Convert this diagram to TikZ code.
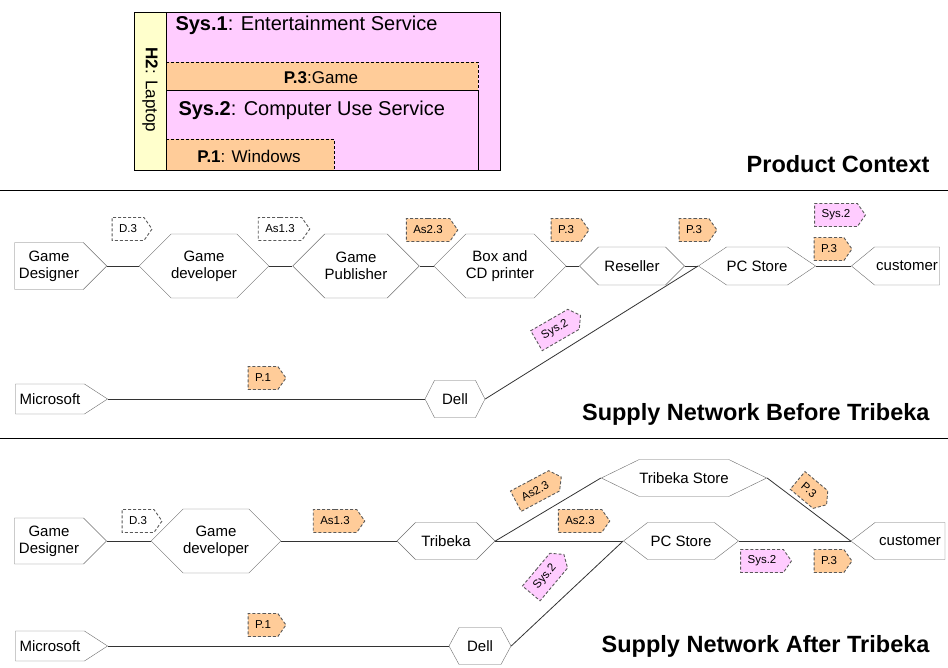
\documentclass[tikz,border=0pt]{standalone}
\usepackage{fontspec}
\setmainfont{Liberation Sans}
\usetikzlibrary{shapes.symbols}
\definecolor{peach}{HTML}{FFCC99}
\definecolor{lilac}{HTML}{FFCCFF}
\definecolor{cream}{HTML}{FFFFCC}
\definecolor{rimgray}{HTML}{6E6E6E}
\tikzset{
  firm/.style={signal, signal to=west and east, signal pointer angle=90,
    draw=rimgray, fill=white, align=center, inner sep=0pt,
    font=\fontsize{15}{17}\selectfont},
  source/.style={firm, signal to=east},
  sink/.style={firm, signal to=west},
  link/.style={draw=black!80, line width=0.8pt},
  tag/.style={signal, signal to=east, signal pointer angle=110,
    draw=black!65, dash pattern=on 3pt off 2pt, line width=0.9pt,
    minimum height=23pt, inner xsep=7pt, inner ysep=0pt,
    font=\fontsize{11.5}{13}\selectfont},
  title/.style={anchor=base east, font=\bfseries\fontsize{23.5}{27}\selectfont}
}
\begin{document}
\begin{tikzpicture}[x=1pt,y=-1pt]
  \useasboundingbox (0,0) rectangle (948,667);

  % product context
  \fill[lilac] (166,12) rectangle (500,170);
  \fill[cream] (134,12) rectangle (166,170);
  \fill[peach] (166,62) rectangle (478,90);
  \fill[peach] (166,139) rectangle (334,170);
  \draw[line width=0.8pt] (166,90) -- (478,90) -- (478,170);
  \draw[line width=0.8pt,dash pattern=on 3pt off 2pt] (166,62) -- (478,62) -- (478,90);
  \draw[line width=0.8pt,dash pattern=on 3pt off 2pt] (166,139) -- (334,139) -- (334,170);
  \draw[line width=0.8pt] (134,12) rectangle (500,170);
  \draw[line width=0.8pt] (166,12) -- (166,170);
  \node[anchor=base west,font=\fontsize{20}{22}\selectfont] (sysone) at (172,30) {\textbf{Sys.1}: Entertainment Service};
  \node[anchor=base,font=\fontsize{17}{19}\selectfont] (game) at (321,83) {\textbf{P.3}:Game};
  \node[anchor=base west,font=\fontsize{20}{22}\selectfont] (systwo) at (175,115) {\textbf{Sys.2}: Computer Use Service};
  \node[anchor=base,font=\fontsize{17}{19}\selectfont] (windows) at (249,162) {\textbf{P.1}: Windows};
  \node[rotate=-90,font=\fontsize{17}{19}\selectfont] (laptop) at (150,90) {\textbf{H2}: Laptop};
  \node[title] (ctx) at (933,172) {Product Context};

  \draw[line width=0.8pt] (0,190) -- (948,190);
  \draw[line width=0.8pt] (0,438) -- (948,438);

  % supply network before tribeka
  \node[source,minimum width=92pt,minimum height=47pt] (designA) at (49,266) {Game\\Designer};
  \node[firm,minimum width=122pt,minimum height=64pt] (developerA) at (204,266) {Game\\developer};
  \node[firm,minimum width=117pt,minimum height=64pt] (publisherA) at (356,266) {Game\\Publisher};
  \node[firm,minimum width=126pt,minimum height=64pt] (printerA) at (500,266) {Box and\\CD printer};
  \node[firm,minimum width=105pt,minimum height=38pt] (resellerA) at (632,266) {Reseller};
  \node[firm,signal pointer angle=68,minimum width=115pt,minimum height=38pt] (pcstoreA) at (757,266) {PC Store};
  \node[sink,signal pointer angle=79,minimum width=88pt,minimum height=38pt] (customerA) at (907,266) {customer};
  \node[source,signal pointer angle=66,minimum width=92pt,minimum height=30pt] (microsoftA) at (50,399) {Microsoft};
  \node[firm,signal pointer angle=126,minimum width=60pt,minimum height=37pt] (dellA) at (455,399) {Dell};

  \draw[link] (designA.east) -- (developerA.west);
  \draw[link] (developerA.east) -- (publisherA.west);
  \draw[link] (publisherA.east) -- (printerA.west);
  \draw[link] (printerA.east) -- (resellerA.west);
  \draw[link] (resellerA.east) -- (pcstoreA.west);
  \draw[link] (pcstoreA.east) -- (customerA.west);
  \draw[link] (microsoftA.east) -- (dellA.west);
  \draw[link] (dellA.east) -- (pcstoreA.west);

  \node[tag,fill=white] (dA) at (128,229) {D.3};
  \node[tag,fill=white] (asoneA) at (280,229) {As1.3};
  \node[tag,fill=peach] (astwoA) at (428,230) {As2.3};
  \node[tag,fill=peach] (pthreeA) at (566,230) {P.3};
  \node[tag,fill=peach] (pthreeB) at (694,230) {P.3};
  \node[tag,fill=lilac] (systwoA) at (836,215) {Sys.2};
  \node[tag,fill=peach] (pthreeC) at (829,249) {P.3};
  \node[tag,fill=lilac,rotate=30] (systwoB) at (555,330) {Sys.2};
  \node[tag,fill=peach] (poneA) at (263,378) {P.1};
  \node[title] (before) at (933,420) {Supply Network Before Tribeka};

  % supply network after tribeka
  \node[source,minimum width=92pt,minimum height=46pt] (designB) at (49,541) {Game\\Designer};
  \node[firm,minimum width=122pt,minimum height=64pt] (developerB) at (216,541) {Game\\developer};
  \node[firm,minimum width=98pt,minimum height=37pt] (tribeka) at (446,541) {Tribeka};
  \node[firm,signal pointer angle=52,minimum width=160pt,minimum height=37pt] (tribekastore) at (684,478) {Tribeka Store};
  \node[firm,signal pointer angle=75,minimum width=115pt,minimum height=37pt] (pcstoreB) at (681,541) {PC Store};
  \node[sink,signal pointer angle=75,minimum width=94pt,minimum height=37pt] (customerB) at (910,541) {customer};
  \node[source,signal pointer angle=66,minimum width=92pt,minimum height=30pt] (microsoftB) at (50,646) {Microsoft};
  \node[firm,signal pointer angle=123,minimum width=62pt,minimum height=37pt] (dellB) at (480,646) {Dell};

  \draw[link] (designB.east) -- (developerB.west);
  \draw[link] (developerB.east) -- (tribeka.west);
  \draw[link] (tribeka.east) -- (tribekastore.west);
  \draw[link] (tribeka.east) -- (pcstoreB.west);
  \draw[link] (tribekastore.east) -- (customerB.west);
  \draw[link] (pcstoreB.east) -- (customerB.west);
  \draw[link] (microsoftB.east) -- (dellB.west);
  \draw[link] (dellB.east) -- (pcstoreB.west);

  \node[tag,fill=white] (dB) at (138,521) {D.3};
  \node[tag,fill=peach] (asoneB) at (335,521) {As1.3};
  \node[tag,fill=peach,rotate=28] (astwoB) at (535,491) {As2.3};
  \node[tag,fill=peach] (astwoC) at (580,521) {As2.3};
  \node[tag,fill=peach,rotate=-40] (pthreeD) at (809,490) {P.3};
  \node[tag,fill=lilac] (systwoC) at (762,561) {Sys.2};
  \node[tag,fill=peach] (pthreeE) at (829,561) {P.3};
  \node[tag,fill=lilac,rotate=50] (systwoD) at (545,577) {Sys.2};
  \node[tag,fill=peach] (poneB) at (263,625) {P.1};
  \node[title] (after) at (933,652) {Supply Network After Tribeka};
\end{tikzpicture}
\end{document}
